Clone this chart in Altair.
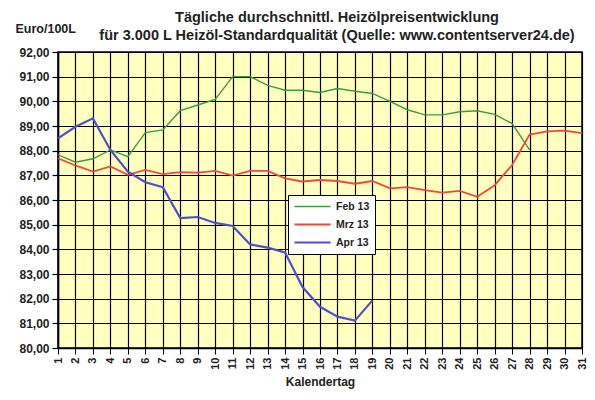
import pandas as pd
import altair as alt

# Kalendertag 1..31 and daily heating-oil prices (Euro/100L)
days = list(range(1, 32))
feb13 = [87.83, 87.53, 87.67, 88.03, 87.76, 88.73, 88.84, 89.62, 89.85, 90.08,
         91.00, 91.00, 90.65, 90.45, 90.45, 90.36, 90.52, 90.41, 90.32, 90.00,
         89.66, 89.45, 89.45, 89.58, 89.62, 89.47, 89.10, 88.03]
mrz13 = [87.69, 87.40, 87.15, 87.36, 87.02, 87.22, 87.05, 87.13, 87.11, 87.18,
         86.99, 87.18, 87.18, 86.88, 86.75, 86.81, 86.77, 86.66, 86.77, 86.47,
         86.52, 86.40, 86.30, 86.37, 86.13, 86.60, 87.42, 88.65, 88.78, 88.81,
         88.71]
apr13 = [88.50, 88.97, 89.31, 88.03, 87.15, 86.72, 86.52, 85.27, 85.31, 85.07,
         84.95, 84.20, 84.07, 83.87, 82.47, 81.67, 81.27, 81.11, 81.93]

series_names = ["Feb 13", "Mrz 13", "Apr 13"]
series_colors = ["#3f9a3f", "#f04a36", "#4f4fd0"]

rows = []
for name, values in zip(series_names, [feb13, mrz13, apr13]):
    for d, v in zip(days, values):
        rows.append({"Tag": d, "Preis": v, "Monat": name})
df = pd.DataFrame(rows)

font = "Liberation Sans"

lines = alt.Chart(df).mark_line(clip=True).encode(
    x=alt.X("Tag:Q",
            scale=alt.Scale(domain=[1, 31], nice=False, zero=False),
            axis=alt.Axis(values=days, title="Kalendertag", labelAngle=270,
                          labelFontWeight="bold", labelFontSize=11,
                          labelColor="#222", labelPadding=3,
                          tickColor="black", tickSize=6, tickWidth=1,
                          grid=True, gridColor="black", gridWidth=1.2,
                          gridOpacity=1, domainColor="black", domainWidth=1.5,
                          titleFontSize=12, titleFontWeight="bold",
                          titleColor="#222", titleY=33,
                          titleBaseline="middle")),
    y=alt.Y("Preis:Q",
            scale=alt.Scale(domain=[80, 92], nice=False, zero=False),
            axis=alt.Axis(values=list(range(80, 93)),
                          labelExpr="replace(format(datum.value, '.2f'), '.', ',')",
                          labelFontWeight="bold", labelFontSize=12,
                          labelColor="#222", labelPadding=3,
                          tickColor="black", tickSize=6, tickWidth=1.2,
                          grid=True, gridColor="black", gridWidth=1.2,
                          gridOpacity=1, domainColor="black", domainWidth=1.5,
                          title="Euro/100L", titleAngle=0, titleAlign="left",
                          titleBaseline="middle", titleX=-43, titleY=-24,
                          titleFontSize=12.5, titleFontWeight="bold",
                          titleColor="#222")),
    color=alt.Color("Monat:N",
                    scale=alt.Scale(domain=series_names, range=series_colors),
                    sort=series_names,
                    legend=alt.Legend(title=None, orient="none",
                                      legendX=230, legendY=143,
                                      symbolType="stroke", symbolSize=1300,
                                      symbolStrokeWidth=2, clipHeight=13,
                                      labelFont=font, labelFontSize=10.5,
                                      labelFontWeight="bold", labelColor="#222",
                                      fillColor="white", strokeColor="black")),
    strokeWidth=alt.StrokeWidth("Monat:N",
                                scale=alt.Scale(domain=series_names,
                                                range=[1.4, 2.2, 1.9]),
                                legend=None),
).properties(
    width=524,
    height=296,
    title=alt.Title(
        text=["Tägliche durchschnittl. Heizölpreisentwicklung",
              "für 3.000 L Heizöl-Standardqualität (Quelle: www.contentserver24.de)"],
        anchor="middle", dx=17, dy=33, offset=12,
        font=font, fontSize=14.5, fontWeight="bold", color="#222",
        lineHeight=18),
    padding={"left": 50, "top": 44, "right": 5, "bottom": 42},
    autosize=alt.AutoSizeParams(type="none"),
    background="white",
)

chart = lines.configure_view(
    fill="#ffffc0", stroke="black", strokeWidth=1.5
).configure_axis(
    labelFont=font, titleFont=font
).configure_legend(
    strokeWidth=1, padding=5, rowPadding=5
)

chart.save("out.html", embed_options={"renderer": "svg", "actions": False})
